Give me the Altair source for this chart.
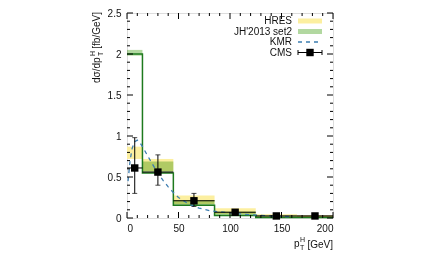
import altair as alt
import pandas as pd

# ---- data ----
bin_lo = [0, 15, 45, 85, 125, 165]
bin_hi = [15, 45, 85, 125, 165, 200]
hres_lo = [0.72, 0.57, 0.17, 0.05, 0.01, 0.005]
hres_hi = [0.87, 0.72, 0.275, 0.12, 0.045, 0.03]
jh_lo = [1.98, 0.56, 0.155, 0.03, 0.005, 0.0]
jh_hi = [2.05, 0.69, 0.22, 0.08, 0.03, 0.03]
jh_edges = [0, 15, 45, 85, 125, 165, 200]
jh_central = [2.0, 0.55, 0.155, 0.03, 0.005, 0.005, 0.005]
kmr_x = [1, 3, 5, 7.5, 10, 12.5, 15, 20, 25, 30, 35, 40, 45, 50, 60, 70, 80,
         90, 100, 110, 120, 130, 140, 150, 160]
kmr_y = [0.45, 0.7, 0.85, 0.93, 0.95, 0.92, 0.87, 0.76, 0.65, 0.55, 0.46, 0.38,
         0.31, 0.25, 0.17, 0.12, 0.09, 0.075, 0.062, 0.05, 0.04, 0.032, 0.025,
         0.02, 0.015]
cms_x = [7.5, 30, 65, 105, 145, 182.5]
cms_y = [0.61, 0.56, 0.21, 0.07, 0.025, 0.025]
cms_lo = [0.30, 0.40, 0.14, 0.045, 0.01, 0.01]
cms_hi = [0.98, 0.77, 0.30, 0.095, 0.04, 0.04]

y_major = [0, 0.5, 1, 1.5, 2, 2.5]
y_minor = [0.1, 0.2, 0.3, 0.4, 0.6, 0.7, 0.8, 0.9, 1.1, 1.2, 1.3, 1.4, 1.6,
           1.7, 1.8, 1.9, 2.1, 2.2, 2.3, 2.4]
x_major = [0, 50, 100, 150, 200]
x_minor = [10, 20, 30, 40, 60, 70, 80, 90, 110, 120, 130, 140, 160, 170, 180, 190]

W, H = 206, 205
FONT = "Liberation Sans"
YELLOW = "#fcefa0"
GREEN = "#b2d8a0"
OLIVE = "#bdb27c"
DKGREEN = "#1e7a1e"
BLUE = "#3d7db0"
TXT = "#111"

bins = pd.DataFrame(dict(lo=bin_lo, hi=bin_hi, hlo=hres_lo, hhi=hres_hi,
                         jlo=jh_lo, jhi=jh_hi))
step = pd.DataFrame(dict(x=jh_edges, y=jh_central))
kmr = pd.DataFrame(dict(x=kmr_x, y=kmr_y))
cms = pd.DataFrame(dict(x=cms_x, y=cms_y, lo=cms_lo, hi=cms_hi,
                        blo=bin_lo, bhi=bin_hi))

xs = alt.Scale(domain=[0, 200], nice=False, zero=False)
ys = alt.Scale(domain=[0, 2.5], nice=False, zero=False)
ax_x = alt.Axis(values=x_major, ticks=False, domain=False, grid=False,
                labelPadding=5, title=None, labelFont=FONT, labelFontSize=10,
                labelColor=TXT, labelExpr="'' + datum.value")
ax_y = alt.Axis(values=y_major, ticks=False, domain=False, grid=False,
                labelPadding=6, title=None, labelFont=FONT, labelFontSize=10,
                labelColor=TXT, labelExpr="'' + datum.value")

hres = alt.Chart(bins).mark_rect(color=YELLOW).encode(
    x=alt.X("lo:Q", scale=xs, axis=ax_x), x2="hi:Q",
    y=alt.Y("hlo:Q", scale=ys, axis=ax_y), y2="hhi:Q")
jh = alt.Chart(bins).mark_rect(blend="multiply").encode(
    x=alt.X("lo:Q", scale=xs), x2="hi:Q",
    y=alt.Y("jlo:Q", scale=ys), y2="jhi:Q",
    color=alt.condition("datum.lo >= 165", alt.value(OLIVE), alt.value(GREEN)))
jhline = alt.Chart(step).mark_line(color=DKGREEN, strokeWidth=1.5,
                                   interpolate="step-after").encode(
    x=alt.X("x:Q", scale=xs), y=alt.Y("y:Q", scale=ys))
kmrline = alt.Chart(kmr).mark_line(color=BLUE, strokeWidth=1.3,
                                   strokeDash=[4, 4]).encode(
    x=alt.X("x:Q", scale=xs), y=alt.Y("y:Q", scale=ys))
cms_h = alt.Chart(cms).mark_rule(color="black", strokeWidth=1).encode(
    x=alt.X("blo:Q", scale=xs), x2="bhi:Q", y=alt.Y("y:Q", scale=ys))
cms_v = alt.Chart(cms).mark_rule(color="black", strokeWidth=1).encode(
    x=alt.X("x:Q", scale=xs), y=alt.Y("lo:Q", scale=ys), y2="hi:Q")
cms_cap_lo = alt.Chart(cms).mark_tick(color="black", orient="horizontal",
                                      size=5, thickness=1).encode(
    x=alt.X("x:Q", scale=xs), y=alt.Y("lo:Q", scale=ys))
cms_cap_hi = alt.Chart(cms).mark_tick(color="black", orient="horizontal",
                                      size=5, thickness=1).encode(
    x=alt.X("x:Q", scale=xs), y=alt.Y("hi:Q", scale=ys))
cms_pt = alt.Chart(cms).mark_square(color="black", size=55, opacity=1).encode(
    x=alt.X("x:Q", scale=xs), y=alt.Y("y:Q", scale=ys))

# inward ticks on all four sides
def yticks(vals, length):
    d = pd.DataFrame(dict(v=vals))
    l = alt.Chart(d).mark_rule(color="black", strokeWidth=1).encode(
        y=alt.Y("v:Q", scale=ys), x=alt.value(0), x2=alt.value(length))
    r = alt.Chart(d).mark_rule(color="black", strokeWidth=1).encode(
        y=alt.Y("v:Q", scale=ys), x=alt.value(W), x2=alt.value(W - length))
    return [l, r]

def xticks(vals, length):
    d = pd.DataFrame(dict(v=vals))
    b = alt.Chart(d).mark_rule(color="black", strokeWidth=1).encode(
        x=alt.X("v:Q", scale=xs), y=alt.value(H), y2=alt.value(H - length))
    t = alt.Chart(d).mark_rule(color="black", strokeWidth=1).encode(
        x=alt.X("v:Q", scale=xs), y=alt.value(0), y2=alt.value(length))
    return [b, t]

ticks = yticks(y_major, 6) + yticks(y_minor, 3) + xticks(x_major, 6) + xticks(x_minor, 3)

one = pd.DataFrame(dict(a=[0]))

def txt(s, x, y, size=10, align="left", angle=0, baseline="middle"):
    kw = dict(font=FONT, fontSize=size, align=align, baseline=baseline, color=TXT)
    if angle:
        kw["angle"] = angle
    return alt.Chart(one).mark_text(**kw).encode(
        x=alt.value(x), y=alt.value(y), text=alt.value(s))

# axis titles
ytitle = [
    txt("dσ/dp", -30, 70, angle=270),
    txt("H", -34, 43, size=7, angle=270),
    txt("T", -26, 43, size=7, angle=270),
    txt("[fb/GeV]", -30, -1, align="right", angle=270),
]
xtitle = [
    txt("p", 167, 231),
    txt("H", 173, 227, size=7),
    txt("T", 173, 235, size=7),
    txt("[GeV]", 206, 232, align="right"),
]

# legend
LX0, LX1, TX = 171, 195, 165
legend = [
    txt("HRES", TX, 8, align="right"),
    alt.Chart(one).mark_rect(color=YELLOW).encode(
        x=alt.value(LX0), x2=alt.value(LX1), y=alt.value(5.5), y2=alt.value(10.5)),
    txt("JH'2013 set2", TX, 18.5, align="right"),
    alt.Chart(one).mark_rect(color=GREEN).encode(
        x=alt.value(LX0), x2=alt.value(LX1), y=alt.value(16), y2=alt.value(21)),
    txt("KMR", TX, 29, align="right"),
    alt.Chart(one).mark_rule(color=BLUE, strokeWidth=1.3, strokeDash=[4, 4]).encode(
        x=alt.value(LX0), x2=alt.value(LX1), y=alt.value(29)),
    txt("CMS", TX, 39.5, align="right"),
    alt.Chart(one).mark_rule(color="black", strokeWidth=1).encode(
        x=alt.value(LX0), x2=alt.value(LX1), y=alt.value(39.5)),
    alt.Chart(one).mark_rule(color="black", strokeWidth=1).encode(
        x=alt.value(LX0), y=alt.value(37), y2=alt.value(42)),
    alt.Chart(one).mark_rule(color="black", strokeWidth=1).encode(
        x=alt.value(LX1), y=alt.value(37), y2=alt.value(42)),
    alt.Chart(one).mark_square(color="black", size=55, opacity=1).encode(
        x=alt.value((LX0 + LX1) / 2), y=alt.value(39.5)),
]

chart = alt.layer(
    hres, jh, jhline, kmrline, cms_h, cms_v, cms_cap_lo, cms_cap_hi, cms_pt,
    *ticks, *ytitle, *xtitle, *legend
).properties(
    width=W, height=H,
    autosize=alt.AutoSizeParams(type="none"),
    padding={"left": 119, "top": 5, "right": 95, "bottom": 36},
).configure_view(stroke="black", strokeWidth=1).configure(background="white")

chart.save("out.html", embed_options={"renderer": "svg", "actions": False})
